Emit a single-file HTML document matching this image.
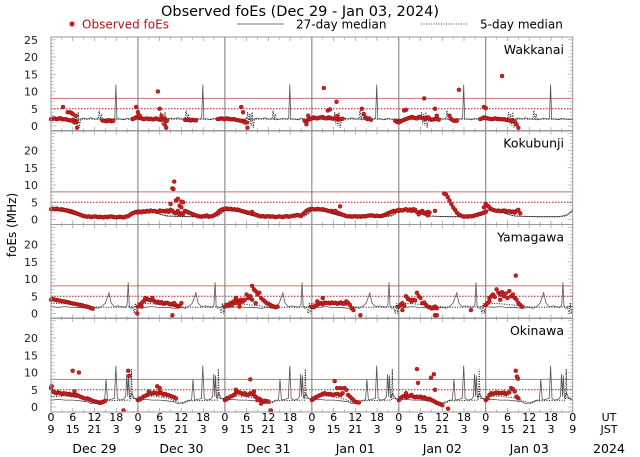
<!DOCTYPE html>
<html><head><meta charset="utf-8">
<style>
html,body{margin:0;padding:0;background:#fff;}
svg{display:block;font-family:"DejaVu Sans","Liberation Sans",sans-serif;}
</style></head>
<body>
<svg id="chart" width="640" height="457" viewBox="0 0 640 457" xmlns="http://www.w3.org/2000/svg">
<text x="300" y="16" font-size="14.5" text-anchor="middle" fill="#000">Observed foEs (Dec 29 - Jan 03, 2024)</text>
<g>
<circle cx="72" cy="24" r="2.6" fill="#cc1f1f"/>
<text x="82" y="28.5" font-size="12" fill="#b01818">Observed foEs</text>
<line x1="237" y1="24" x2="284" y2="24" stroke="#444" stroke-width="0.8"/>
<text x="296" y="28.5" font-size="12" fill="#000">27-day median</text>
<line x1="421" y1="24" x2="468" y2="24" stroke="#444" stroke-width="0.9" stroke-dasharray="1,1.5"/>
<text x="480" y="28.5" font-size="12" fill="#000">5-day median</text>
</g>
<text transform="translate(16,225) rotate(-90)" font-size="12" text-anchor="middle">foEs (MHz)</text>
<g id="plots"></g>
<g id="xaxis"></g>
</svg>
<script>
const stations = ["Wakkanai","Kokubunji","Yamagawa","Okinawa"];
const dayLabels = ["Dec 29","Dec 30","Dec 31","Jan 01","Jan 02","Jan 03"];
const utTicks = [0,6,12,18];
const jstTicks = [9,15,21,3];
const yTicks = [0,5,10,15,20,25];
const redSolidLevel = 8;
const redDotLevel = 5;

const med27W = [[0,2],[1,1.8],[2,2.1],[3,1.9],[4,2],[5,1.7],[6,2.2],[7,1.9],[8,2],[9,2.3],[10,2],[11,2.4],[12,2],[13,2.1],[14,1.8],[15,2],[16,2.2],[17,2],[17.6,2.2],[17.9,12],[18.2,2],[19,2.1],[20,1.8],[21,2.2],[22,2],[23,1.9],[24,2]];
const med27K = [[0,2.6],[2,2.5],[4,2.2],[6,1.6],[8,1],[11,0.9],[14,0.8],[17,0.8],[20,0.8],[22,1.2],[23,1.8],[24,2.6]];
const med27Y = [[0,2],[2,1.8],[4,2],[6,1.7],[8,1.8],[10,1.5],[12,1.8],[13,1.5],[14,2],[15,3],[16,6],[16.6,3],[17.5,2],[18.5,2.2],[19.5,2],[20.5,1.8],[21,2.5],[21.3,9],[21.6,2],[22,1.5],[23,2],[24,2]];
const med27O = [[0,2],[2,2.2],[4,2],[6,2],[8,1.8],[10,1.5],[11,1],[12,1.2],[13,1.5],[14,2],[14.8,2],[15.2,8],[15.6,2],[16.5,2.2],[17.5,2.5],[17.9,12],[18.3,2.5],[19,2],[20,2.2],[20.6,3],[20.9,9.5],[21.2,3],[21.4,9.2],[21.7,2.5],[22.3,4],[23,2.5],[24,2]];
const med5W = [[0,2],[6,2],[6.3,4],[6.6,0.5],[6.9,3.5],[7.2,0],[7.5,4],[7.8,-0.5],[8.2,2],[13,2],[13.3,4.5],[13.6,2],[13.9,3.5],[14.2,2],[24,2]];
const med5K = [[0,2.8],[2,2.6],[4,2.2],[6,1.5],[8,1.1],[11,0.9],[14,0.8],[17,0.8],[20,0.8],[22,1],[23,1.6],[24,2.8]];
const med5Y = [[0,3],[4,2.8],[8,2.4],[12,1.9],[16,1.8],[20,1.8],[22.5,2],[23,0],[23.3,3],[23.6,0],[24,2]];
const med5O = [[0,3],[4,3.2],[8,2.6],[11,1.5],[12,1],[13,1.2],[14,1.8],[22,2],[22.2,11],[22.4,2.5],[24,2.5]];

const obsRunsW = [[0,[2,2.1,2.2,2,2.1,2.3,2,1.9,2,1.8,1.7,1.6,1.5,1.3,1.2]],[14.2,[1.6,1.5,1.4,1.5,1.6,1.4,1.5]],[22.5,[2,2.2,2.5,2.8,2.3,2.2,2,2.1,2.2,2,2.1,1.9,2,2.2,2,1.8,1.9,2,2.1,1.5]],[37,[1.8,1.7,1.9,1.6,1.8,1.7,1.6]],[46,[2,2.1,2.2,2.1,2,2.2,2.1,2,1.9,2,1.8,1.7,1.6,1.5,1.4,1.2,1]],[70,[1.5,1,1.8,2,2.2,2.5,2.3,2.2,2.4,2.5,2.6,2.3,2.2,2.5,2.4,2.2,2.1,2.3,2,1.9,2,2.1]],[85.8,[5,3.5,2.5,2,2.2,1.8]],[95,[1.5,1.2,1,1.3,1.6,1.8,2,2.2,2.4,2.6,2.5,2.3,2.2,2.6,2.5,2.3,2.1,2.2,2.4,2,1.8,1.9,2,2.1,1.8]],[110,[3,2,1.6,1.5,1.5]],[118.5,[2,2.2,2.5,2.3,2.2,2.1,2,2,2.2,2.1,2,2,1.9,2,1.8,1.7,1.6,1.5,1.5,1.4]]];
const obsPtsW = [[3.3,5.5],[4.6,4],[5.2,4],[5.6,3.8],[6,3.5],[6.5,1],[7.2,-0.5],[6.8,3],[23.5,5.5],[24,4],[24.5,3],[29.5,10],[30,5],[30.5,3],[31.3,0.5],[31.8,-0.5],[52.5,5.5],[53,4],[54.2,-0.5],[53.5,1],[70.5,0.5],[71,3],[75.3,11],[76.4,4.5],[77,4.8],[78.8,7],[79,2.8],[97.5,4.5],[98,4.7],[103,8],[104.2,2.5],[106,5],[106.5,3],[112.6,10.5],[119.5,5.5],[120,5.2],[124.5,14.5],[129,-0.5],[128.5,0.5]];

const obsRunsK = [[0,[3,3.1,3,3.2,3,2.9,3,2.8,2.7,2.6,2.5,2.4,2.2,2,1.8,1.6,1.4,1.2,1,0.9]],[10,[0.8,0.9,0.7,0.8,0.9,0.8,0.7,0.8,0.7,0.6,0.8,0.7,0.8,0.9,0.8,0.7,0.6,0.7,0.8,0.7,0.6,0.8,0.9,1.1,1.5,1.8]],[23,[2,2.2,2,2.3,2.1,2.4,2.2,2.5,2.3,2.6,2.4,2.5,2.3,2.2,2.6,2.4,2.5,2.3,2.6,2.2,2.8,2.5,2,1.8,2.5,1.5,1.8,1.6]],[37,[2.5,2.3,2,1.8,1.6,1.4,1.2,1,0.9,0.8,1,0.9,1.2,0.8,0.9,1,1.2,1.5,2,2.5,2.8]],[47.5,[3,3.1,3.2,3,3.1,2.9,3,2.8,2.9,2.7,2.5,2.4,2.2,2.1,2,1.8,2.2,1.6,1.4,1.2]],[57.5,[1,0.9,1,0.8,0.9,1,0.8,0.9,0.8,0.7,0.8,0.9,0.8,0.7,0.9,1,0.8,0.9,1,1.1,1.2,1.3,1.2]],[69,[1,1.5,2,2.5,2.8,3,3.1,3,2.9,3.1,3,2.9,3,2.8,2.7,2.5,2.4,2.5,2.3,2.2]],[79,[2,1.8,1.6,1.4,1.2,1,0.9,1,0.8,0.9,1,0.8,0.9,0.8,1,0.9,1,1.1,1.2,1.2,1.1,1,1.1,1]],[91,[1,1.1,1.3,1.5,1.8,2,2.2,2.5,2.4,2.6,2.5,2.7,2.6,2.8,3,2.6,2.9,2.5,3,2.8,2.2,1.5,2.2,2.5,2,1.8,2.2,2]],[108.5,[7.5,7.3,6.5,5.5,4.5,3.5,2.8,2,1.5,1.2]],[113.5,[1,0.8,0.9,0.8,1,0.9,1,1.2,1.3,1.5,1.6,1.8,2,2.2]],[119.5,[3.5,4.5,4,3.5,3,2.8,2.6,2.5,2.6,2.4,2.5,2.6,2.5,2.3,2.4,2.2,2.3,2,2.5,2.8,1.8]]];
const obsPtsK = [[33.5,9],[34,11],[33.8,8.8],[34.5,5.5],[35,6],[35.5,4],[36,5.2],[36.5,5],[36,3.5],[33,4.5],[79.8,3.8],[78.5,2.5],[96,2.8],[104,1.2],[106,2.5]];

const obsRunsY = [[0,[4,4.2,4,3.9,3.8,3.7,3.6,3.5,3.4,3.3,3.2,3,2.9,2.8,2.7,2.6,2.5,2.4,2.2,2.1,2,1.8,1.6,1.4]],[24,[2,2.5,3,3.5,4,4.2,4,3.8,4.5,3.6,3.2,3.4,3,3.3,2.8,3,3.1,2.9,2.6,2.8,2.5,2.4,2,2.2,3]],[48,[2,2.5,2.2,3,3.2,3.5,4.5,3.8,3,4,3.5,4,5.5,4.5,5,8,7,6.5,5.5,6,4.5,4,3.5,3,2.8,2.5,2.2,2,1.8,2]],[72,[2,1.8,2.2,2.5,2.8,3,2.7,3.2,3,3.1,2.9,3.2,3,3.1,2.8,3,3.2,3,2.9,3.5,3,2.5,1.5,1]],[96,[2,2.5,3,2.2,5,4.2,4,3.5,4,3.8,6,5,4.5,3,3.2,2.5,2,1.8,1.5,1.5,2,1.5]],[120,[2.5,3,4.5,5,5.5,4.8,7,6,5.5,6.2,5,5.8,4.5,6.5,5,5.5,4.5,4,3,2.5,2]]];
const obsPtsY = [[23.8,0],[25,2],[26,4.5],[33.5,-0.5],[34,3],[50,2.5],[51,3],[52,2],[55.5,4],[56.5,3],[75,4.5],[73.5,3.5],[85.4,-0.5],[97,1],[106,-0.5],[106.5,-0.5],[115.9,1],[128.3,11],[121,3.5],[124,4]];

const obsRunsO = [[0,[5.5,4.5,4.2,4,4.3,4,3.8,4,3.9,3.7,3.8,3.6,3.5,3.4,3.5,3.3,3,2.8,2.6,2.4,2.5,2.3,2,1.8,1.6,1.5,1.4,1.2,1.3,1.5,1.8]],[24,[2,2.2,2.5,3,3.2,3.5,3.8,4,3.9,4.2,4,3.8,4.5,4,3.6,3.8,3.5,3.4,3.2,3,2.8,2.5]],[48,[2,2.3,2.6,3,3.2,3.5,4,4.5,4.2,4,3.8,4,3.5,3.6,4,3.7,3.5,3,2.5,2.4,2,1.5,1.8,1.7,1.6]],[72,[2,2.4,2.8,3,3.3,3.5,3.8,4,3.8,3.7,3.8,3.6,3.5,3.7,3.8,3.6,3.5,4,5.5,5,3.5,3,2.5,2,1.5,1.4,1.3]],[96,[2,2.5,3,3.2,2.8,3,3.2,3.5,3,2.8,3,2.8,3,2.6,2.8,2.5,2.2,2.4,2,1.8,1.5,1.2,1,0.8,0.5]],[120,[2,2.5,3.5,4,3.8,4,4.2,3.9,4.1,4,4.2,3.8,4,4.3,5.5,5.2,4.5,3,2.5]]];
const obsPtsO = [[0.2,6],[6,10.5],[7.7,10],[6.5,4.5],[20,-1],[21.3,10.5],[21.6,9],[29.3,6],[30,5.5],[27,4.5],[55,8],[51,5],[56,4.5],[57,2],[60.7,-1],[58,1],[78.3,7.5],[80,5.5],[79,5.5],[101,11],[101.3,7],[104.9,8.5],[105.7,9.5],[106,5],[109.6,-0.5],[98,4],[128.3,10.5],[128.6,8.8],[128.9,8.2]];

const med27 = [med27W,med27K,med27Y,med27O];
const med5 = [med5W,med5K,med5Y,med5O];
const obsRuns = [obsRunsW,obsRunsK,obsRunsY,obsRunsO];
const obsPts = [obsPtsW,obsPtsK,obsPtsY,obsPtsO];

const NS="http://www.w3.org/2000/svg";
const X0=51, X1=572.7, HOURS=144;
const zeroY=[126,219.5,313.5,407];
const PXV=3.45;
function xs(h){return X0+h*(X1-X0)/HOURS;}
function ys(v,i){return zeroY[i]-v*PXV;}
function mk(tag,attrs,parent){const e=document.createElementNS(NS,tag);for(const k in attrs)e.setAttribute(k,attrs[k]);parent.appendChild(e);return e;}

const plots=document.getElementById('plots');
stations.forEach((st,i)=>{
  const g=mk('g',{},plots);
  
  
  const top=zeroY[i]-89, bot=zeroY[i]+5;
  for(let v=0;v<=25;v++){
    const yy=ys(v,i); if(yy<top+1)continue;
    const len=(v%5===0)?5:3;
    mk('line',{x1:X0,x2:X0+len,y1:yy,y2:yy,stroke:'#aaa','stroke-width':0.7},g);
    mk('line',{x1:X1-len,x2:X1,y1:yy,y2:yy,stroke:'#aaa','stroke-width':0.7},g);
  }
  yTicks.forEach(v=>{
    if(v===25 && i>0) return;
    const t=mk('text',{x:38,y:ys(v,i)+4,'font-size':11,'text-anchor':'end',fill:'#222'},g);
    
    
    t.textContent=v;
  });
  for(let h=0;h<=HOURS;h+=3){
    mk('line',{x1:xs(h),x2:xs(h),y1:bot,y2:bot-(h%6===0?4:2.5),stroke:'#999','stroke-width':0.7},g);
    mk('line',{x1:xs(h),x2:xs(h),y1:top,y2:top+(h%6===0?4:2.5),stroke:'#999','stroke-width':0.7},g);
  }
  const rl=mk('line',{x1:X0,x2:X1,y1:ys(redSolidLevel,i),y2:ys(redSolidLevel,i),stroke:'#c07878','stroke-width':1},g);
  
  
  const dl=mk('line',{x1:X0,x2:X1,y1:ys(redDotLevel,i),y2:ys(redDotLevel,i),stroke:'#a02020','stroke-width':1,'stroke-dasharray':'1.5,1.5'},g);
  
  
  for(let d=1;d<6;d++){
    const l=mk('line',{x1:xs(d*24),x2:xs(d*24),y1:top,y2:bot,stroke:'#777','stroke-width':1},g);
    
    
  }
  let p27='', p5='';
  for(let d=0;d<6;d++){
    med27[i].forEach((p,k)=>{p27+=(d===0&&k===0?'M':'L')+xs(d*24+p[0]).toFixed(1)+','+ys(p[1],i).toFixed(1);});
    med5[i].forEach((p,k)=>{p5+=(d===0&&k===0?'M':'L')+xs(d*24+p[0]).toFixed(1)+','+ys(p[1],i).toFixed(1);});
  }
  const l27=mk('path',{d:p27,fill:'none',stroke:'#555','stroke-width':0.8},g);
  
  
  const l5=mk('path',{d:p5,fill:'none',stroke:'#111','stroke-width':1,'stroke-dasharray':'1,1.5'},g);
  
  
  const og=mk('g',{fill:'#cc1f1f',stroke:'#7a0a0a','stroke-width':0.4},g);
  
  
  obsRuns[i].forEach(run=>{
    run[1].forEach((v,k)=>{
      const c=mk('circle',{cx:xs(run[0]+k*0.5).toFixed(1),cy:ys(v,i).toFixed(1),r:2},og);
      
      
    });
  });
  obsPts[i].forEach(p=>{
    const c=mk('circle',{cx:xs(p[0]).toFixed(1),cy:ys(p[1],i).toFixed(1),r:2},og);
    
    
  });
  const fr=mk('rect',{x:X0,y:top,width:X1-X0,height:bot-top,fill:'none',stroke:'#999','stroke-width':1},g);
  
  
  const nm=mk('text',{x:564,y:top+17,'font-size':12.5,'text-anchor':'end',fill:'#000'},g);
  
  
  nm.textContent=st;
});

const xa=document.getElementById('xaxis');
for(let d=0;d<=6;d++){
  utTicks.forEach((u,k)=>{
    if(d===6 && k>0) return;
    const h=d*24+u;
    const t1=mk('text',{x:xs(h),y:421,'font-size':11,'text-anchor':'middle'},xa);
    
    
    t1.textContent=u;
    const t2=mk('text',{x:xs(h),y:433,'font-size':11,'text-anchor':'middle'},xa);
    
    
    t2.textContent=jstTicks[k];
  });
}
dayLabels.forEach((lab,d)=>{
  const t=mk('text',{x:xs(d*24+12),y:453,'font-size':12.5,'text-anchor':'middle'},xa);
  
  
  t.textContent=lab;
});
[['UT',421,11],['JST',433,11],['2024',453,12.5]].forEach(a=>{
  const t=mk('text',{x:609,y:a[1],'font-size':a[2],'text-anchor':'middle'},xa);
  
  
  t.textContent=a[0];
});
</script>
</body></html>
